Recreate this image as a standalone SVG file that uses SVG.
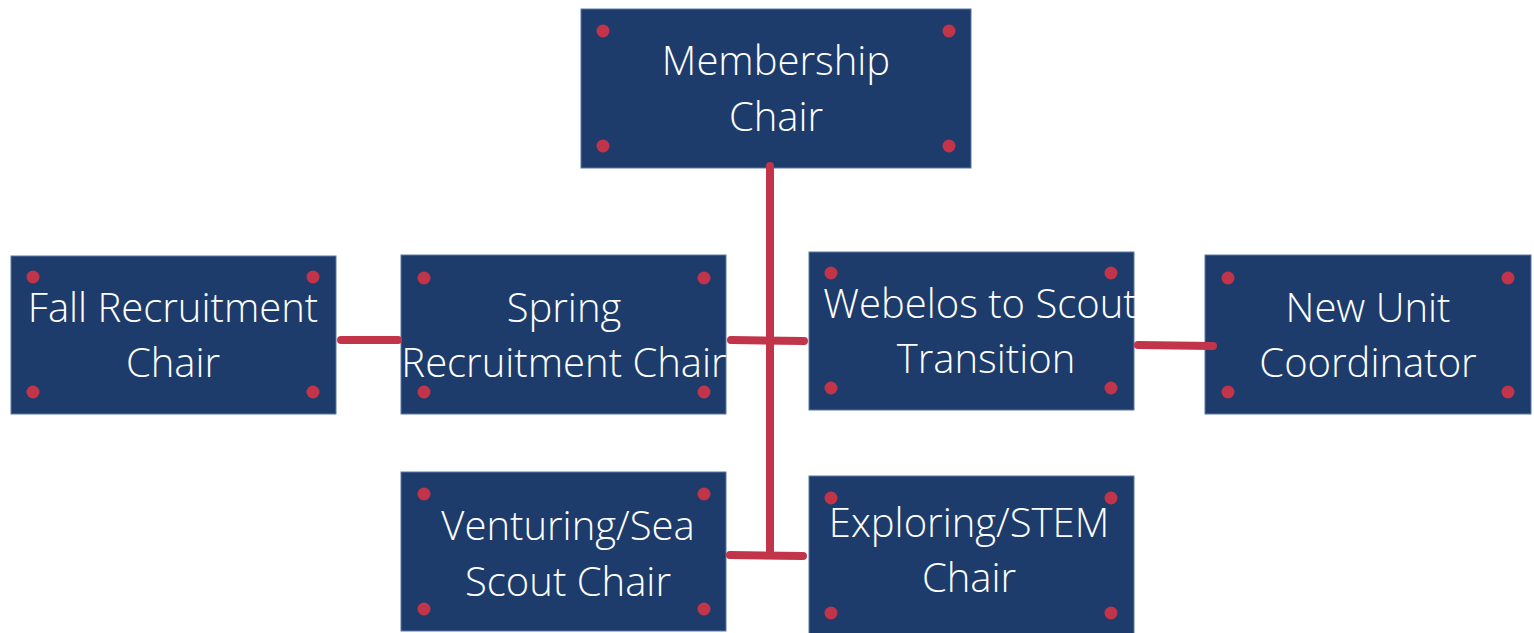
<svg xmlns="http://www.w3.org/2000/svg" width="1534" height="633" viewBox="0 0 1534 633">
<defs>
<style>
.box{fill:#1d3c6b;stroke:#5a78a3;stroke-width:1}
.dot{fill:#c1344a}
.lbl{font-family:"Open Sans","Liberation Sans",sans-serif;font-weight:300;font-size:40px;fill:#ffffff;text-anchor:middle}
.con{stroke:#c1344a;stroke-width:8;stroke-linecap:round;fill:none}
</style>
</defs>
<rect width="1534" height="633" fill="#ffffff"/>
<g id="node-membership">
<rect class="box" x="581" y="9" width="390" height="159"/>
<circle class="dot" cx="603" cy="31" r="6.5"/><circle class="dot" cx="949" cy="31" r="6.5"/><circle class="dot" cx="603" cy="146" r="6.5"/><circle class="dot" cx="949" cy="146" r="6.5"/>
<text class="lbl" x="776" y="75">Membership</text><text class="lbl" x="776" y="131">Chair</text>
</g>
<g id="node-fall">
<rect class="box" x="11" y="256" width="325" height="158"/>
<circle class="dot" cx="33" cy="277" r="6.5"/><circle class="dot" cx="313" cy="277" r="6.5"/><circle class="dot" cx="33" cy="392" r="6.5"/><circle class="dot" cx="313" cy="392" r="6.5"/>
<text class="lbl" x="173" y="322">Fall Recruitment</text><text class="lbl" x="173" y="377">Chair</text>
</g>
<g id="node-spring">
<rect class="box" x="401" y="255" width="325" height="159"/>
<circle class="dot" cx="424" cy="278" r="6.5"/><circle class="dot" cx="704" cy="278" r="6.5"/><circle class="dot" cx="424" cy="392" r="6.5"/><circle class="dot" cx="704" cy="392" r="6.5"/>
<text class="lbl" x="564" y="322">Spring</text><text class="lbl" x="564" y="377">Recruitment Chair</text>
</g>
<g id="node-webelos">
<rect class="box" x="809" y="252" width="325" height="158"/>
<circle class="dot" cx="831" cy="273" r="6.5"/><circle class="dot" cx="1111" cy="273" r="6.5"/><circle class="dot" cx="831" cy="388" r="6.5"/><circle class="dot" cx="1111" cy="388" r="6.5"/>
<text class="lbl" x="980" y="318">Webelos to Scout</text><text class="lbl" x="986" y="373">Transition</text>
</g>
<g id="node-newunit">
<rect class="box" x="1205" y="255" width="326" height="159"/>
<circle class="dot" cx="1228" cy="278" r="6.5"/><circle class="dot" cx="1508" cy="278" r="6.5"/><circle class="dot" cx="1228" cy="392" r="6.5"/><circle class="dot" cx="1508" cy="392" r="6.5"/>
<text class="lbl" x="1368" y="322">New Unit</text><text class="lbl" x="1368" y="377">Coordinator</text>
</g>
<g id="node-venturing">
<rect class="box" x="401" y="472" width="325" height="159"/>
<circle class="dot" cx="424" cy="494" r="6.5"/><circle class="dot" cx="704" cy="494" r="6.5"/><circle class="dot" cx="424" cy="609" r="6.5"/><circle class="dot" cx="704" cy="609" r="6.5"/>
<text class="lbl" x="568" y="540">Venturing/Sea</text><text class="lbl" x="568" y="596">Scout Chair</text>
</g>
<g id="node-exploring">
<rect class="box" x="809" y="476" width="325" height="158"/>
<circle class="dot" cx="831" cy="498" r="6.5"/><circle class="dot" cx="1111" cy="498" r="6.5"/><circle class="dot" cx="831" cy="613" r="6.5"/><circle class="dot" cx="1111" cy="613" r="6.5"/>
<text class="lbl" x="969" y="537">Exploring/STEM</text><text class="lbl" x="969" y="592">Chair</text>
</g>
<g id="connectors">
<line class="con" x1="770" y1="166" x2="770" y2="553"/>
<line class="con" x1="731" y1="340" x2="804" y2="341"/>
<line class="con" x1="341" y1="340" x2="398" y2="340"/>
<line class="con" x1="1138" y1="345" x2="1213" y2="346"/>
<line class="con" x1="730" y1="555" x2="803" y2="556"/>
</g>
</svg>
